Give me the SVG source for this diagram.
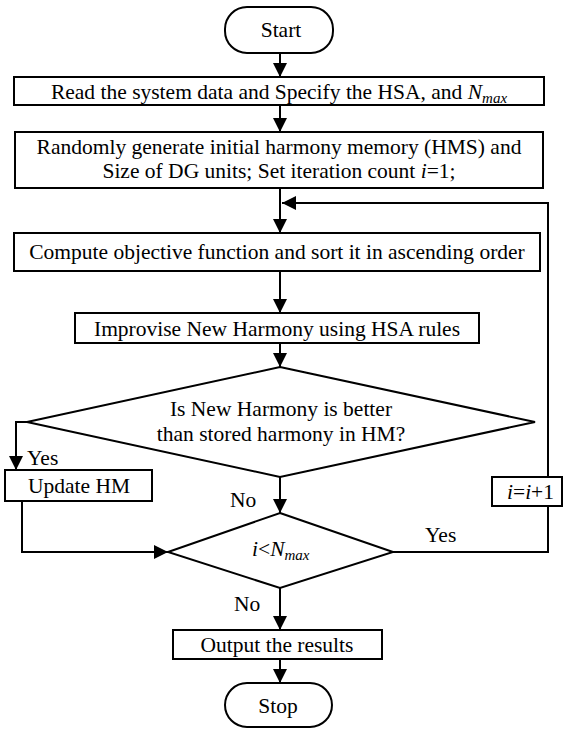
<svg xmlns="http://www.w3.org/2000/svg" width="563" height="729" viewBox="0 0 563 729">
<defs>
<style>
.n{fill:#fff;stroke:#000;stroke-width:2}
.c{fill:none;stroke:#000;stroke-width:2}
text{font-family:"Liberation Serif","Times New Roman",serif;font-size:21.5px;fill:#000}
.m{text-anchor:middle}
.it{font-style:italic}
.sub{font-style:italic;font-size:15px}
</style>
<marker id="ah" viewBox="0 0 14 14" refX="14" refY="7" markerWidth="14" markerHeight="14" markerUnits="userSpaceOnUse" orient="auto">
<path d="M0,0 L14,7 L0,14 Z" fill="#000"/>
</marker>
</defs>
<rect width="563" height="729" fill="#fff"/>
<g id="connectors">
<path class="c" d="M280,53 V77" marker-end="url(#ah)"/>
<path class="c" d="M280,105 V132" marker-end="url(#ah)"/>
<path class="c" d="M280,188 V233" marker-end="url(#ah)"/>
<path class="c" d="M548,477 V203 H282" marker-end="url(#ah)"/>
<path class="c" d="M280,271 V313" marker-end="url(#ah)"/>
<path class="c" d="M280,343 V367" marker-end="url(#ah)"/>
<path class="c" d="M27,422 H16 V470" marker-end="url(#ah)"/>
<path class="c" d="M280,477 V513" marker-end="url(#ah)"/>
<path class="c" d="M22,501 V552 H168" marker-end="url(#ah)"/>
<path class="c" d="M393,552 H548 V506"/>
<path class="c" d="M280,588 V630" marker-end="url(#ah)"/>
<path class="c" d="M280,659 V683" marker-end="url(#ah)"/>
<text x="27" y="465">Yes</text>
<text x="230" y="507">No</text>
<text x="425" y="542">Yes</text>
<text x="234" y="611">No</text>
</g>
<g id="start">
<rect class="n" x="225" y="7" width="108" height="46" rx="22"/>
<text class="m" x="281" y="37">Start</text>
</g>
<g id="read">
<rect class="n" x="14" y="77" width="530" height="28"/>
<text class="m" x="279" y="99">Read the system data and Specify the HSA, and <tspan class="it">N</tspan><tspan class="sub" dy="4">max</tspan></text>
</g>
<g id="init">
<rect class="n" x="15" y="132" width="528" height="56"/>
<text class="m" x="279" y="154">Randomly generate initial harmony memory (HMS) and</text>
<text class="m" x="279" y="178">Size of DG units; Set iteration count <tspan class="it">i</tspan>=1;</text>
</g>
<g id="compute">
<rect class="n" x="14" y="233" width="526" height="38"/>
<text class="m" x="277" y="259">Compute objective function and sort it in ascending order</text>
</g>
<g id="improvise">
<rect class="n" x="75" y="313" width="404" height="30"/>
<text class="m" x="277" y="336">Improvise New Harmony using HSA rules</text>
</g>
<g id="decision1">
<polygon class="n" points="280,367 535,422 280,477 27,422"/>
<text class="m" x="281" y="416">Is New Harmony is better</text>
<text class="m" x="281" y="441">than stored harmony in HM?</text>
</g>
<g id="update">
<rect class="n" x="5" y="470" width="147" height="31"/>
<text x="28" y="493">Update HM</text>
</g>
<g id="increment">
<rect class="n" x="492" y="477" width="70" height="29"/>
<text x="507" y="499"><tspan class="it">i</tspan>=<tspan class="it">i</tspan>+1</text>
</g>
<g id="decision2">
<polygon class="n" points="280,513 393,552 280,588 168,552"/>
<text x="252" y="556"><tspan class="it">i</tspan>&lt;<tspan class="it">N</tspan><tspan class="sub" dy="4">max</tspan></text>
</g>
<g id="output">
<rect class="n" x="173" y="630" width="209" height="29"/>
<text class="m" x="277" y="652">Output the results</text>
</g>
<g id="stop">
<rect class="n" x="225" y="683" width="107" height="44" rx="22"/>
<text class="m" x="278" y="713">Stop</text>
</g>
</svg>
